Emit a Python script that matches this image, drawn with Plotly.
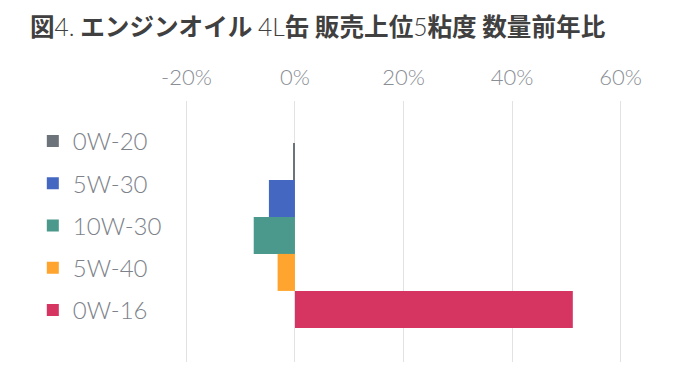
import plotly.graph_objects as go

series_names = ["0W-20", "5W-30", "10W-30", "5W-40", "0W-16"]
series_values = [-0.2, -4.8, -7.6, -3.2, 51.2]
series_colors = ["#6c737b", "#4467c2", "#4a998c", "#ffa52f", "#d63461"]
tick_values = [-20, 0, 20, 40, 60]
tick_labels = ["-20%", "0%", "20%", "40%", "60%"]

title_html = ("<b>図</b><span style='font-family:Lato;font-weight:300'>4.</span>"
              "<b> エンジンオイル </b><span style='font-family:Lato;font-weight:300'>4L</span>"
              "<b>缶 販売上位</b><span style='font-family:Lato;font-weight:300'>5</span>"
              "<b>粘度 数量前年比</b>")

fig = go.Figure()
for name, val, col in zip(series_names, series_values, series_colors):
    fig.add_trace(go.Bar(
        y=[0], x=[val], name=name, orientation="h",
        marker=dict(color=col, line=dict(width=0)),
        legendgroup=name,
    ))

fig.update_layout(
    width=700, height=391,
    margin=dict(l=181, r=74, t=101, b=29),
    paper_bgcolor="white", plot_bgcolor="white",
    barmode="group", bargap=0.291,
    title=dict(text=title_html, x=0, xref="container", xanchor="left", y=0.93, yref="container", yanchor="middle",
               pad=dict(l=30),
               font=dict(family="Noto Sans CJK JP", size=24.6, color="#404040")),
    font=dict(family="Lato", color="#7d828a", weight=300),
    xaxis=dict(side="top", range=[-21, 61], tickvals=tick_values, ticktext=tick_labels,
               showgrid=True, gridcolor="#e2e2e2", gridwidth=1, zeroline=False,
               showline=False, ticks="", tickfont=dict(size=22, color="#8a8e95", family="Lato", weight=300),
               ticklabelstandoff=11, fixedrange=True),
    yaxis=dict(type="linear", range=[0.485, -0.515], showticklabels=False, showgrid=False,
               zeroline=False, showline=False, ticks=""),
    legend=dict(x=-0.333, xanchor="left", y=0.931, yanchor="top",
                font=dict(size=24, color="#7d828a", family="Lato", weight=300),
                tracegroupgap=8, bgcolor="rgba(0,0,0,0)"),
    showlegend=True,
)

fig.write_html("out.html")
